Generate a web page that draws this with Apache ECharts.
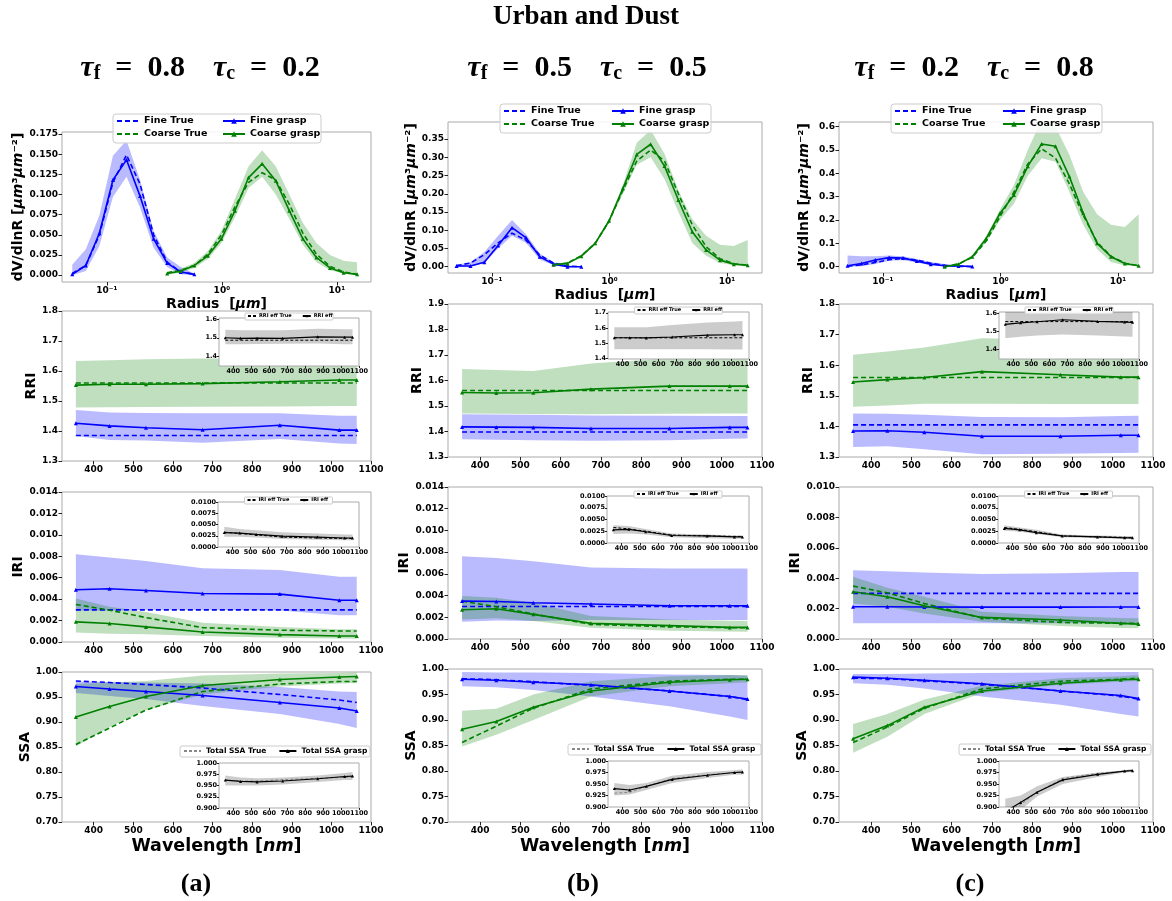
<!DOCTYPE html>
<html>
<head>
<meta charset="utf-8">
<script src="https://cdn.jsdelivr.net/npm/echarts@6.0.0/dist/echarts.min.js"></script>
<style>
html,body{margin:0;padding:0;background:#fff;}
#chart{width:1172px;height:901px;}
</style>
</head>
<body>
<div id="chart"></div>
<script>
// ---------------- categories ----------------
const RADIUS = [0.05, 0.0656, 0.0861, 0.1129, 0.1482, 0.1944, 0.2551, 0.3347, 0.4392, 0.5763, 0.7562,
  0.9922, 1.302, 1.708, 2.241, 2.941, 3.859, 5.063, 6.644, 8.717, 11.44, 15.0];
const WAVELENGTH = [355, 440, 532, 675, 870, 1020, 1064];

// ---------------- tick labels ----------------
const LOG_TICKS = [-1, 0, 1];
const LOG_TICK_LABELS = ['10⁻¹', '10⁰', '10¹'];
const WL_TICKS = [400, 500, 600, 700, 800, 900, 1000, 1100];
const VSD_A_TICKS = [0, 0.025, 0.05, 0.075, 0.1, 0.125, 0.15, 0.175];
const VSD_B_TICKS = [0, 0.05, 0.1, 0.15, 0.2, 0.25, 0.3, 0.35];
const VSD_C_TICKS = [0, 0.1, 0.2, 0.3, 0.4, 0.5, 0.6];
const RRI_AC_TICKS = [1.3, 1.4, 1.5, 1.6, 1.7, 1.8];
const RRI_B_TICKS = [1.3, 1.4, 1.5, 1.6, 1.7, 1.8, 1.9];
const IRI_AB_TICKS = [0, 0.002, 0.004, 0.006, 0.008, 0.010, 0.012, 0.014];
const IRI_C_TICKS = [0, 0.002, 0.004, 0.006, 0.008, 0.010];
const SSA_TICKS = [0.70, 0.75, 0.80, 0.85, 0.90, 0.95, 1.00];
const INS_RRI_AC_TICKS = [1.4, 1.5, 1.6];
const INS_RRI_B_TICKS = [1.4, 1.5, 1.6, 1.7];
const INS_IRI_TICKS = [0, 0.0025, 0.005, 0.0075, 0.01];
const INS_SSA_TICKS = [0.9, 0.925, 0.95, 0.975, 1.0];

// ---------------- (a) size distribution ----------------
const A_VSD_FINE_TRUE   = [0.002, 0.012, 0.050, 0.115, 0.149, 0.113, 0.050, 0.016, 0.004, 0.001];
const A_VSD_FINE_GRASP  = [0.001, 0.012, 0.052, 0.118, 0.143, 0.098, 0.045, 0.015, 0.004, 0.001];
const A_VSD_FINE_LO     = [0.000, 0.005, 0.036, 0.097, 0.122, 0.084, 0.034, 0.010, 0.001, 0.000];
const A_VSD_FINE_HI     = [0.013, 0.032, 0.074, 0.148, 0.167, 0.118, 0.055, 0.022, 0.010, 0.002];
const A_VSD_COARSE_TRUE  = [0.003, 0.006, 0.012, 0.026, 0.050, 0.085, 0.115, 0.127, 0.118, 0.088, 0.052, 0.026, 0.011, 0.004, 0.001];
const A_VSD_COARSE_GRASP = [0.002, 0.005, 0.012, 0.024, 0.045, 0.080, 0.121, 0.138, 0.117, 0.080, 0.045, 0.022, 0.009, 0.003, 0.001];
const A_VSD_COARSE_LO    = [0.001, 0.003, 0.009, 0.020, 0.040, 0.072, 0.108, 0.122, 0.100, 0.070, 0.038, 0.016, 0.006, 0.002, 0.000];
const A_VSD_COARSE_HI    = [0.004, 0.008, 0.015, 0.030, 0.055, 0.095, 0.135, 0.155, 0.135, 0.100, 0.065, 0.040, 0.025, 0.018, 0.016];
// ---------------- (b) size distribution ----------------
const B_VSD_FINE_TRUE   = [0.003, 0.010, 0.033, 0.065, 0.092, 0.073, 0.032, 0.010, 0.002, 0.000];
const B_VSD_FINE_GRASP  = [0.002, 0.002, 0.012, 0.058, 0.107, 0.080, 0.027, 0.007, 0.000, 0.000];
const B_VSD_FINE_LO     = [0.000, 0.000, 0.010, 0.050, 0.085, 0.066, 0.020, 0.004, 0.000, 0.000];
const B_VSD_FINE_HI     = [0.005, 0.012, 0.040, 0.085, 0.128, 0.090, 0.036, 0.012, 0.003, 0.001];
const B_VSD_COARSE_TRUE  = [0.005, 0.010, 0.030, 0.064, 0.125, 0.210, 0.290, 0.320, 0.290, 0.200, 0.115, 0.055, 0.022, 0.008, 0.004];
const B_VSD_COARSE_GRASP = [0.005, 0.009, 0.029, 0.064, 0.126, 0.215, 0.308, 0.336, 0.276, 0.183, 0.096, 0.046, 0.018, 0.007, 0.004];
const B_VSD_COARSE_LO    = [0.003, 0.007, 0.025, 0.060, 0.120, 0.200, 0.280, 0.300, 0.240, 0.150, 0.065, 0.030, 0.010, 0.004, 0.002];
const B_VSD_COARSE_HI    = [0.006, 0.012, 0.032, 0.068, 0.130, 0.225, 0.340, 0.375, 0.310, 0.210, 0.130, 0.085, 0.060, 0.057, 0.073];
// ---------------- (c) size distribution ----------------
const C_VSD_FINE_TRUE   = [0.002, 0.008, 0.018, 0.030, 0.036, 0.028, 0.015, 0.006, 0.002, 0.000];
const C_VSD_FINE_GRASP  = [0.004, 0.014, 0.029, 0.039, 0.037, 0.024, 0.011, 0.004, 0.003, 0.001];
const C_VSD_FINE_LO     = [0.000, 0.002, 0.012, 0.025, 0.028, 0.018, 0.006, 0.001, 0.000, 0.000];
const C_VSD_FINE_HI     = [0.048, 0.045, 0.045, 0.048, 0.045, 0.033, 0.020, 0.012, 0.008, 0.003];
const C_VSD_COARSE_TRUE  = [0.000, 0.012, 0.040, 0.110, 0.215, 0.320, 0.440, 0.505, 0.465, 0.355, 0.220, 0.105, 0.045, 0.015, 0.004];
const C_VSD_COARSE_GRASP = [0.000, 0.010, 0.043, 0.121, 0.229, 0.307, 0.430, 0.526, 0.516, 0.386, 0.229, 0.100, 0.043, 0.014, 0.004];
const C_VSD_COARSE_LO    = [0.000, 0.008, 0.038, 0.105, 0.200, 0.270, 0.390, 0.465, 0.450, 0.320, 0.180, 0.075, 0.020, 0.005, 0.002];
const C_VSD_COARSE_HI    = [0.002, 0.015, 0.050, 0.130, 0.245, 0.350, 0.500, 0.630, 0.600, 0.480, 0.320, 0.225, 0.180, 0.170, 0.225];

// ---------------- RRI ----------------
const A_RRI_FINE_TRUE = [1.385, 1.385, 1.385, 1.385, 1.385, 1.385, 1.385];
const A_RRI_FINE_GRASP = [1.426, 1.417, 1.411, 1.404, 1.419, 1.403, 1.403];
const A_RRI_FINE_LO = [1.383, 1.370, 1.368, 1.361, 1.373, 1.358, 1.357];
const A_RRI_FINE_HI = [1.470, 1.462, 1.460, 1.459, 1.459, 1.451, 1.451];
const A_RRI_COARSE_TRUE = [1.560, 1.560, 1.560, 1.560, 1.560, 1.560, 1.560];
const A_RRI_COARSE_GRASP = [1.553, 1.556, 1.556, 1.558, 1.564, 1.570, 1.570];
const A_RRI_COARSE_LO = [1.478, 1.479, 1.480, 1.481, 1.482, 1.483, 1.483];
const A_RRI_COARSE_HI = [1.633, 1.636, 1.639, 1.642, 1.642, 1.642, 1.642];
const A_RRI_EFF_TRUE = [1.487, 1.487, 1.487, 1.487, 1.487, 1.487, 1.487];
const A_RRI_EFF = [1.500, 1.497, 1.498, 1.497, 1.505, 1.503, 1.503];
const A_RRI_EFF_LO = [1.465, 1.466, 1.467, 1.468, 1.470, 1.466, 1.465];
const A_RRI_EFF_HI = [1.542, 1.540, 1.540, 1.540, 1.548, 1.545, 1.545];

const B_RRI_FINE_TRUE = [1.398, 1.398, 1.398, 1.398, 1.398, 1.398, 1.398];
const B_RRI_FINE_GRASP = [1.418, 1.417, 1.416, 1.412, 1.412, 1.416, 1.416];
const B_RRI_FINE_LO = [1.370, 1.368, 1.366, 1.364, 1.366, 1.372, 1.373];
const B_RRI_FINE_HI = [1.468, 1.467, 1.466, 1.463, 1.462, 1.461, 1.461];
const B_RRI_COARSE_TRUE = [1.561, 1.561, 1.561, 1.561, 1.561, 1.561, 1.561];
const B_RRI_COARSE_GRASP = [1.553, 1.551, 1.552, 1.566, 1.578, 1.578, 1.578];
const B_RRI_COARSE_LO = [1.471, 1.470, 1.469, 1.468, 1.470, 1.471, 1.471];
const B_RRI_COARSE_HI = [1.645, 1.641, 1.637, 1.667, 1.687, 1.694, 1.696];
const B_RRI_EFF_TRUE = [1.535, 1.535, 1.535, 1.535, 1.535, 1.535, 1.535];
const B_RRI_EFF = [1.535, 1.535, 1.534, 1.540, 1.552, 1.555, 1.555];
const B_RRI_EFF_LO = [1.460, 1.460, 1.460, 1.460, 1.459, 1.458, 1.458];
const B_RRI_EFF_HI = [1.605, 1.605, 1.605, 1.620, 1.635, 1.643, 1.645];

const C_RRI_FINE_TRUE = [1.405, 1.405, 1.405, 1.405, 1.405, 1.405, 1.405];
const C_RRI_FINE_GRASP = [1.385, 1.386, 1.381, 1.368, 1.368, 1.371, 1.371];
const C_RRI_FINE_LO = [1.333, 1.335, 1.325, 1.309, 1.311, 1.313, 1.314];
const C_RRI_FINE_HI = [1.442, 1.441, 1.438, 1.431, 1.430, 1.434, 1.435];
const C_RRI_COARSE_TRUE = [1.560, 1.560, 1.560, 1.560, 1.560, 1.560, 1.560];
const C_RRI_COARSE_GRASP = [1.545, 1.553, 1.560, 1.579, 1.569, 1.561, 1.561];
const C_RRI_COARSE_LO = [1.464, 1.468, 1.474, 1.474, 1.473, 1.473, 1.473];
const C_RRI_COARSE_HI = [1.634, 1.645, 1.658, 1.688, 1.683, 1.683, 1.683];
const C_RRI_EFF_TRUE = [1.552, 1.552, 1.552, 1.552, 1.552, 1.552, 1.552];
const C_RRI_EFF = [1.537, 1.545, 1.551, 1.562, 1.553, 1.549, 1.548];
const C_RRI_EFF_LO = [1.460, 1.468, 1.475, 1.480, 1.475, 1.470, 1.468];
const C_RRI_EFF_HI = [1.620, 1.620, 1.620, 1.620, 1.620, 1.620, 1.620];

// ---------------- IRI ----------------
const A_IRI_FINE_TRUE = [0.003, 0.003, 0.003, 0.003, 0.003, 0.003, 0.003];
const A_IRI_FINE_GRASP = [0.00488, 0.00497, 0.00481, 0.00453, 0.00447, 0.00390, 0.00390];
const A_IRI_FINE_LO = [0.00295, 0.00295, 0.00300, 0.00300, 0.00295, 0.00250, 0.00250];
const A_IRI_FINE_HI = [0.00819, 0.00788, 0.00756, 0.00688, 0.00672, 0.00610, 0.00610];
const A_IRI_COARSE_TRUE = [0.00350, 0.00297, 0.00228, 0.00134, 0.00110, 0.00103, 0.00103];
const A_IRI_COARSE_GRASP = [0.00188, 0.00172, 0.00141, 0.00094, 0.00069, 0.00056, 0.00056];
const A_IRI_COARSE_LO = [0.00088, 0.00078, 0.00072, 0.00056, 0.00040, 0.00032, 0.00030];
const A_IRI_COARSE_HI = [0.00406, 0.00328, 0.00280, 0.00180, 0.00140, 0.00120, 0.00120];
const A_IRI_EFF_TRUE = [0.0033, 0.0030, 0.0027, 0.0022, 0.0020, 0.0019, 0.0019];
const A_IRI_EFF = [0.0032, 0.0031, 0.0028, 0.0024, 0.0022, 0.0020, 0.0020];
const A_IRI_EFF_LO = [0.0023, 0.0023, 0.0021, 0.0018, 0.0016, 0.0015, 0.0015];
const A_IRI_EFF_HI = [0.0045, 0.0040, 0.0037, 0.0033, 0.0030, 0.0028, 0.0028];

const B_IRI_FINE_TRUE = [0.003, 0.003, 0.003, 0.003, 0.003, 0.003, 0.003];
const B_IRI_FINE_GRASP = [0.00349, 0.00346, 0.00334, 0.00322, 0.00306, 0.00306, 0.00306];
const B_IRI_FINE_LO = [0.00159, 0.00170, 0.00165, 0.00175, 0.00175, 0.00175, 0.00175];
const B_IRI_FINE_HI = [0.00763, 0.00747, 0.00717, 0.00659, 0.00649, 0.00649, 0.00649];
const B_IRI_COARSE_TRUE = [0.00349, 0.00297, 0.00230, 0.00135, 0.00113, 0.00104, 0.00104];
const B_IRI_COARSE_GRASP = [0.00270, 0.00279, 0.00227, 0.00144, 0.00123, 0.00107, 0.00107];
const B_IRI_COARSE_LO = [0.00180, 0.00190, 0.00165, 0.00104, 0.00077, 0.00068, 0.00067];
const B_IRI_COARSE_HI = [0.00395, 0.00380, 0.00334, 0.00211, 0.00180, 0.00168, 0.00165];
const B_IRI_EFF_TRUE = [0.0033, 0.0030, 0.0025, 0.0017, 0.0015, 0.0014, 0.0014];
const B_IRI_EFF = [0.0028, 0.0029, 0.0024, 0.0016, 0.0015, 0.0013, 0.0013];
const B_IRI_EFF_LO = [0.0019, 0.0020, 0.0018, 0.0012, 0.0010, 0.0009, 0.0009];
const B_IRI_EFF_HI = [0.0038, 0.0036, 0.0030, 0.0020, 0.0018, 0.0016, 0.0016];

const C_IRI_FINE_TRUE = [0.003, 0.003, 0.003, 0.003, 0.003, 0.003, 0.003];
const C_IRI_FINE_GRASP = [0.00212, 0.00212, 0.00211, 0.00210, 0.00210, 0.00211, 0.00211];
const C_IRI_FINE_LO = [0.00103, 0.00103, 0.00103, 0.00103, 0.00103, 0.00103, 0.00103];
const C_IRI_FINE_HI = [0.00453, 0.00445, 0.00438, 0.00427, 0.00432, 0.00440, 0.00440];
const C_IRI_COARSE_TRUE = [0.00348, 0.00304, 0.00234, 0.00138, 0.00109, 0.00103, 0.00103];
const C_IRI_COARSE_GRASP = [0.00311, 0.00278, 0.00219, 0.00142, 0.00125, 0.00103, 0.00098];
const C_IRI_COARSE_LO = [0.00234, 0.00212, 0.00168, 0.00114, 0.00085, 0.00073, 0.00070];
const C_IRI_COARSE_HI = [0.00409, 0.00337, 0.00278, 0.00179, 0.00151, 0.00138, 0.00136];
const C_IRI_EFF_TRUE = [0.0033, 0.0029, 0.0024, 0.0015, 0.0013, 0.0012, 0.0011];
const C_IRI_EFF = [0.0031, 0.0028, 0.0022, 0.0015, 0.0013, 0.0011, 0.0011];
const C_IRI_EFF_LO = [0.0026, 0.0024, 0.0019, 0.0012, 0.0010, 0.0009, 0.0009];
const C_IRI_EFF_HI = [0.0038, 0.0033, 0.0028, 0.0018, 0.0016, 0.0015, 0.0015];

// ---------------- SSA ----------------
const A_SSA_FINE_TRUE = [0.982, 0.979, 0.975, 0.968, 0.955, 0.944, 0.939];
const A_SSA_FINE_GRASP = [0.971, 0.966, 0.961, 0.953, 0.939, 0.928, 0.922];
const A_SSA_FINE_LO = [0.958, 0.952, 0.946, 0.932, 0.916, 0.896, 0.888];
const A_SSA_FINE_HI = [0.981, 0.980, 0.979, 0.977, 0.970, 0.961, 0.960];
const A_SSA_COARSE_TRUE = [0.855, 0.888, 0.924, 0.961, 0.976, 0.981, 0.981];
const A_SSA_COARSE_GRASP = [0.910, 0.931, 0.951, 0.973, 0.985, 0.990, 0.991];
const A_SSA_COARSE_LO = [0.851, 0.890, 0.924, 0.955, 0.971, 0.977, 0.978];
const A_SSA_COARSE_HI = [0.976, 0.979, 0.982, 0.993, 0.997, 0.998, 0.999];
const A_SSA_TOT_TRUE = [0.962, 0.960, 0.960, 0.963, 0.966, 0.968, 0.969];
const A_SSA_TOT = [0.962, 0.959, 0.958, 0.960, 0.965, 0.970, 0.971];
const A_SSA_TOT_LO = [0.950, 0.950, 0.950, 0.952, 0.958, 0.962, 0.962];
const A_SSA_TOT_HI = [0.972, 0.968, 0.966, 0.968, 0.972, 0.978, 0.980];

const B_SSA_FINE_TRUE = [0.981, 0.979, 0.975, 0.968, 0.957, 0.946, 0.940];
const B_SSA_FINE_GRASP = [0.980, 0.978, 0.974, 0.969, 0.957, 0.946, 0.941];
const B_SSA_FINE_LO = [0.966, 0.964, 0.959, 0.946, 0.927, 0.907, 0.900];
const B_SSA_FINE_HI = [0.994, 0.993, 0.993, 0.992, 0.989, 0.988, 0.987];
const B_SSA_COARSE_TRUE = [0.856, 0.888, 0.923, 0.961, 0.976, 0.980, 0.980];
const B_SSA_COARSE_GRASP = [0.882, 0.897, 0.925, 0.957, 0.974, 0.979, 0.980];
const B_SSA_COARSE_LO = [0.848, 0.871, 0.900, 0.946, 0.966, 0.972, 0.974];
const B_SSA_COARSE_HI = [0.918, 0.922, 0.950, 0.976, 0.986, 0.988, 0.988];
const B_SSA_TOT_TRUE = [0.930, 0.932, 0.945, 0.962, 0.970, 0.975, 0.976];
const B_SSA_TOT = [0.940, 0.937, 0.945, 0.960, 0.969, 0.975, 0.976];
const B_SSA_TOT_LO = [0.925, 0.927, 0.937, 0.952, 0.963, 0.970, 0.970];
const B_SSA_TOT_HI = [0.952, 0.948, 0.952, 0.968, 0.976, 0.980, 0.982];

const C_SSA_FINE_TRUE = [0.982, 0.981, 0.977, 0.970, 0.957, 0.947, 0.941];
const C_SSA_FINE_GRASP = [0.984, 0.982, 0.978, 0.971, 0.957, 0.948, 0.942];
const C_SSA_FINE_LO = [0.972, 0.969, 0.962, 0.946, 0.930, 0.912, 0.907];
const C_SSA_FINE_HI = [0.990, 0.990, 0.991, 0.992, 0.993, 0.994, 0.994];
const C_SSA_COARSE_TRUE = [0.856, 0.886, 0.923, 0.961, 0.976, 0.980, 0.982];
const C_SSA_COARSE_GRASP = [0.863, 0.889, 0.925, 0.957, 0.972, 0.979, 0.980];
const C_SSA_COARSE_LO = [0.836, 0.867, 0.912, 0.953, 0.969, 0.975, 0.977];
const C_SSA_COARSE_HI = [0.892, 0.912, 0.940, 0.967, 0.982, 0.986, 0.988];
const C_SSA_TOT_TRUE = [0.890, 0.905, 0.932, 0.962, 0.973, 0.978, 0.980];
const C_SSA_TOT = [0.890, 0.910, 0.932, 0.959, 0.971, 0.978, 0.979];
const C_SSA_TOT_LO = [0.870, 0.893, 0.923, 0.950, 0.965, 0.975, 0.976];
const C_SSA_TOT_HI = [0.918, 0.925, 0.945, 0.965, 0.975, 0.980, 0.983];

// ---------------- styling / layout ----------------
const FONT = 'DejaVu Sans';
const SERIF = 'Liberation Serif';
const BLUE = '#0000ff', GREEN = '#008000';
const BLUE_FILL = 'rgba(0,0,255,0.27)', GREEN_FILL = 'rgba(0,128,0,0.25)', GRAY_FILL = 'rgba(0,0,0,0.2)';
const FRAME = '#aaaaaa';
const LOG_R = RADIUS.map(r => Math.log10(r));
const FINE_R = LOG_R.slice(0, 10);
const COARSE_R = LOG_R.slice(7);

const grids = [], xAxes = [], yAxes = [], series = [], legends = [], graphics = [];

function fmt(d) { return v => Number(v).toFixed(d); }
function logFmt(v) { const i = LOG_TICKS.indexOf(Math.round(v)); return i >= 0 ? LOG_TICK_LABELS[i] : ''; }

function addGrid(r, show) {
  grids.push({left: r[0], top: r[1], width: r[2] - r[0], height: r[3] - r[1], show: show,
    borderColor: FRAME, borderWidth: 1, backgroundColor: 'transparent', containLabel: false, outerBoundsMode: 'none'});
  return grids.length - 1;
}
function nameStyle(fs) {
  return {fontFamily: FONT, fontWeight: 'bold', fontSize: fs, color: '#000',
    rich: {i: {fontFamily: FONT, fontWeight: 'bold', fontStyle: 'italic', fontSize: fs, color: '#000'}}};
}
function addAxis(list, gi, min, max, ticks, formatter, fs, z, extra) {
  const small = fs < 8;
  list.push(Object.assign({
    type: 'value', gridIndex: gi, min: min, max: max, z: z,
    axisLine: {show: false, onZero: false}, splitLine: {show: false},
    axisTick: {show: true, customValues: ticks, length: small ? 2 : 3.5, lineStyle: {color: '#222', width: 1}},
    axisLabel: {show: true, customValues: ticks, formatter: formatter, fontFamily: FONT, fontWeight: 'bold',
      fontSize: fs, color: '#000', margin: small ? 2 : 4}
  }, extra || {}));
  return list.length - 1;
}
function addLine(name, xi, yi, xs, ys, color, dash, marker, z, lw, ms) {
  series.push({type: 'line', name: name, xAxisIndex: xi, yAxisIndex: yi, z: z, silent: true, animation: false,
    data: xs.map((x, i) => [x, ys[i]]),
    symbol: marker ? 'triangle' : 'none', showSymbol: !!marker, symbolSize: ms || 4,
    itemStyle: {color: color}, lineStyle: {color: color, width: lw, type: dash || 'solid'},
    emphasis: {disabled: true}});
}
function addBand(xi, yi, xs, lo, hi, fill, z) {
  const data = xs.map((x, i) => [x, lo[i], hi[i]]);
  const n = data.length;
  series.push({type: 'custom', xAxisIndex: xi, yAxisIndex: yi, z: z, silent: true, clip: true, animation: false,
    data: data, encode: {x: 0, y: [1, 2]},
    renderItem: function (params, api) {
      if (params.dataIndexInside !== 0) return null;
      const pts = [];
      for (let i = 0; i < n; i++) pts.push(api.coord([api.value(0, i), api.value(2, i)]));
      for (let i = n - 1; i >= 0; i--) pts.push(api.coord([api.value(0, i), api.value(1, i)]));
      return {type: 'polygon', shape: {points: pts}, style: {fill: fill, stroke: null}};
    }});
}
function rect(r, fill, stroke, z, radius) {
  graphics.push({type: 'rect', z: z, silent: true,
    shape: {x: r[0], y: r[1], width: r[2] - r[0], height: r[3] - r[1], r: radius || 0},
    style: {fill: fill, stroke: stroke, lineWidth: 1}});
}
function text(x, y, str, font, rich) {
  graphics.push({type: 'text', x: x, y: y, z: 10, silent: true,
    style: Object.assign({text: str, fill: '#000', align: 'center', verticalAlign: 'middle', rich: rich || {}}, font)});
}
// legend entry: lines without markers get no symbol in the legend icon
function legItem(name, hasMarker) {
  return hasMarker ? {name: name} : {name: name, itemStyle: {opacity: 0}};
}

// ----- panel definitions (layout + references to arrays) -----
const PANELS = [
  {tag: '(a)', head: '0.8', head2: '0.2', cx: 200,
   x0: 62, x1: 371, vsdY: [132, 282], rriY: [311, 461], iriY: [492, 642], ssaY: [672, 822],
   vsdX: [-1.39, 1.297], vsdR: [-0.0085, 0.1775], vsdT: VSD_A_TICKS, vsdD: 3, vsdGap: 31,
   rriR: [1.3, 1.8], rriT: RRI_AC_TICKS, rriGap: 17, iriR: [0, 0.014], iriT: IRI_AB_TICKS, iriGap: 30, ssaGap: 25,
   insRri: [219, 318, 359, 366], insRriR: [1.35, 1.605], insRriT: INS_RRI_AC_TICKS,
   insIri: [218, 502, 359, 547], insSsa: [219, 763, 359, 808],
   legBox: [113, 114, 321, 143], legL: 116, legR: 222, legTop: 116,
   ssaLeg: [180, 746, 370, 757],
   vsd: [A_VSD_FINE_TRUE, A_VSD_FINE_GRASP, A_VSD_FINE_LO, A_VSD_FINE_HI, A_VSD_COARSE_TRUE, A_VSD_COARSE_GRASP, A_VSD_COARSE_LO, A_VSD_COARSE_HI],
   rri: [A_RRI_FINE_TRUE, A_RRI_FINE_GRASP, A_RRI_FINE_LO, A_RRI_FINE_HI, A_RRI_COARSE_TRUE, A_RRI_COARSE_GRASP, A_RRI_COARSE_LO, A_RRI_COARSE_HI],
   rriIns: [A_RRI_EFF_TRUE, A_RRI_EFF, A_RRI_EFF_LO, A_RRI_EFF_HI],
   iri: [A_IRI_FINE_TRUE, A_IRI_FINE_GRASP, A_IRI_FINE_LO, A_IRI_FINE_HI, A_IRI_COARSE_TRUE, A_IRI_COARSE_GRASP, A_IRI_COARSE_LO, A_IRI_COARSE_HI],
   iriIns: [A_IRI_EFF_TRUE, A_IRI_EFF, A_IRI_EFF_LO, A_IRI_EFF_HI],
   ssa: [A_SSA_FINE_TRUE, A_SSA_FINE_GRASP, A_SSA_FINE_LO, A_SSA_FINE_HI, A_SSA_COARSE_TRUE, A_SSA_COARSE_GRASP, A_SSA_COARSE_LO, A_SSA_COARSE_HI],
   ssaIns: [A_SSA_TOT_TRUE, A_SSA_TOT, A_SSA_TOT_LO, A_SSA_TOT_HI]},
  {tag: '(b)', head: '0.5', head2: '0.5', cx: 587,
   x0: 448, x1: 762, vsdY: [122, 273], rriY: [304, 457], iriY: [487, 639], ssaY: [669, 822],
   vsdX: [-1.374, 1.298], vsdR: [-0.0173, 0.397], vsdT: VSD_B_TICKS, vsdD: 2, vsdGap: 27,
   rriR: [1.3, 1.9], rriT: RRI_B_TICKS, rriGap: 16, iriR: [0, 0.014], iriT: IRI_AB_TICKS, iriGap: 30, ssaGap: 25,
   insRri: [608, 312, 749, 359], insRriR: [1.395, 1.705], insRriT: INS_RRI_B_TICKS,
   insIri: [607, 496, 749, 543], insSsa: [608, 761, 749, 807],
   legBox: [500, 104, 711, 133], legL: 503, legR: 611, legTop: 106,
   ssaLeg: [568, 744, 761, 755],
   vsd: [B_VSD_FINE_TRUE, B_VSD_FINE_GRASP, B_VSD_FINE_LO, B_VSD_FINE_HI, B_VSD_COARSE_TRUE, B_VSD_COARSE_GRASP, B_VSD_COARSE_LO, B_VSD_COARSE_HI],
   rri: [B_RRI_FINE_TRUE, B_RRI_FINE_GRASP, B_RRI_FINE_LO, B_RRI_FINE_HI, B_RRI_COARSE_TRUE, B_RRI_COARSE_GRASP, B_RRI_COARSE_LO, B_RRI_COARSE_HI],
   rriIns: [B_RRI_EFF_TRUE, B_RRI_EFF, B_RRI_EFF_LO, B_RRI_EFF_HI],
   iri: [B_IRI_FINE_TRUE, B_IRI_FINE_GRASP, B_IRI_FINE_LO, B_IRI_FINE_HI, B_IRI_COARSE_TRUE, B_IRI_COARSE_GRASP, B_IRI_COARSE_LO, B_IRI_COARSE_HI],
   iriIns: [B_IRI_EFF_TRUE, B_IRI_EFF, B_IRI_EFF_LO, B_IRI_EFF_HI],
   ssa: [B_SSA_FINE_TRUE, B_SSA_FINE_GRASP, B_SSA_FINE_LO, B_SSA_FINE_HI, B_SSA_COARSE_TRUE, B_SSA_COARSE_GRASP, B_SSA_COARSE_LO, B_SSA_COARSE_HI],
   ssaIns: [B_SSA_TOT_TRUE, B_SSA_TOT, B_SSA_TOT_LO, B_SSA_TOT_HI]},
  {tag: '(c)', head: '0.2', head2: '0.8', cx: 974,
   x0: 839, x1: 1153, vsdY: [122, 273], rriY: [304, 457], iriY: [487, 639], ssaY: [669, 822],
   vsdX: [-1.374, 1.298], vsdR: [-0.027, 0.62], vsdT: VSD_C_TICKS, vsdD: 1, vsdGap: 28,
   rriR: [1.3, 1.8], rriT: RRI_AC_TICKS, rriGap: 17, iriR: [0, 0.010], iriT: IRI_C_TICKS, iriGap: 31, ssaGap: 26,
   insRri: [999, 312, 1139, 359], insRriR: [1.345, 1.605], insRriT: INS_RRI_AC_TICKS,
   insIri: [998, 496, 1139, 543], insSsa: [999, 761, 1139, 807],
   legBox: [891, 104, 1102, 133], legL: 894, legR: 1002, legTop: 106,
   ssaLeg: [959, 744, 1151, 755],
   vsd: [C_VSD_FINE_TRUE, C_VSD_FINE_GRASP, C_VSD_FINE_LO, C_VSD_FINE_HI, C_VSD_COARSE_TRUE, C_VSD_COARSE_GRASP, C_VSD_COARSE_LO, C_VSD_COARSE_HI],
   rri: [C_RRI_FINE_TRUE, C_RRI_FINE_GRASP, C_RRI_FINE_LO, C_RRI_FINE_HI, C_RRI_COARSE_TRUE, C_RRI_COARSE_GRASP, C_RRI_COARSE_LO, C_RRI_COARSE_HI],
   rriIns: [C_RRI_EFF_TRUE, C_RRI_EFF, C_RRI_EFF_LO, C_RRI_EFF_HI],
   iri: [C_IRI_FINE_TRUE, C_IRI_FINE_GRASP, C_IRI_FINE_LO, C_IRI_FINE_HI, C_IRI_COARSE_TRUE, C_IRI_COARSE_GRASP, C_IRI_COARSE_LO, C_IRI_COARSE_HI],
   iriIns: [C_IRI_EFF_TRUE, C_IRI_EFF, C_IRI_EFF_LO, C_IRI_EFF_HI],
   ssa: [C_SSA_FINE_TRUE, C_SSA_FINE_GRASP, C_SSA_FINE_LO, C_SSA_FINE_HI, C_SSA_COARSE_TRUE, C_SSA_COARSE_GRASP, C_SSA_COARSE_LO, C_SSA_COARSE_HI],
   ssaIns: [C_SSA_TOT_TRUE, C_SSA_TOT, C_SSA_TOT_LO, C_SSA_TOT_HI]}
];

const DASH = [5, 3];
const LW = 1.6;

function fourLines(prefix, xi, yi, xf, xc, d) {
  addBand(xi, yi, xf, d[2], d[3], BLUE_FILL, 2);
  addBand(xi, yi, xc, d[6], d[7], GREEN_FILL, 2);
  addLine(prefix + 'Fine True', xi, yi, xf, d[0], BLUE, DASH, false, 2, LW);
  addLine(prefix + 'Coarse True', xi, yi, xc, d[4], GREEN, DASH, false, 2, LW);
  addLine(prefix + 'Fine grasp', xi, yi, xf, d[1], BLUE, null, true, 2, LW);
  addLine(prefix + 'Coarse grasp', xi, yi, xc, d[5], GREEN, null, true, 2, LW);
}

function addInset(r, yr, yt, yd, d, names, trueColor) {
  rect(r, '#ffffff', FRAME, 3);
  const gi = addGrid(r, false);
  const xi = addAxis(xAxes, gi, 320, 1100, WL_TICKS, v => String(v), 6.5, 5);
  const yi = addAxis(yAxes, gi, yr[0], yr[1], yt, fmt(yd), 6.5, 5);
  addBand(xi, yi, WAVELENGTH, d[2], d[3], GRAY_FILL, 4);
  addLine(names[0], xi, yi, WAVELENGTH, d[0], trueColor, [3, 2], false, 4, 1);
  addLine(names[1], xi, yi, WAVELENGTH, d[1], '#000', null, true, 4, 1.2, 3);
}
function insetLegend(r, names) {
  const cx = (r[0] + r[2]) / 2;
  rect([cx - 44, r[1] - 5, cx + 44, r[1] + 2], 'rgba(255,255,255,0.9)', '#cccccc', 6, 1);
  legends.push({orient: 'horizontal', left: cx - 42, top: r[1] - 4.5, itemWidth: 8, itemHeight: 3, itemGap: 10,
    padding: 0, selectedMode: false, z: 7, data: [legItem(names[0], false), legItem(names[1], true)],
    textStyle: {fontFamily: FONT, fontWeight: 'bold', fontSize: 5, color: '#000', padding: [0, 0, 0, -2]}});
}

PANELS.forEach(p => {
  // ---- size distribution ----
  let gi = addGrid([p.x0, p.vsdY[0], p.x1, p.vsdY[1]], true);
  let xi = addAxis(xAxes, gi, p.vsdX[0], p.vsdX[1], LOG_TICKS, logFmt, 9, 0,
    {name: 'Radius  [{i|μm}]', nameLocation: 'middle', nameGap: 15, nameTextStyle: nameStyle(14)});
  let yi = addAxis(yAxes, gi, p.vsdR[0], p.vsdR[1], p.vsdT, fmt(p.vsdD), 9, 0,
    {name: 'dV/dlnR [{i|μm}³{i|μm}⁻²]', nameLocation: 'middle', nameRotate: 90, nameGap: p.vsdGap, nameTextStyle: nameStyle(14)});
  fourLines('', xi, yi, FINE_R, COARSE_R, p.vsd);
  rect(p.legBox, 'rgba(255,255,255,0.85)', '#cccccc', 6, 3);
  const legText = {fontFamily: FONT, fontWeight: 'bold', fontSize: 9.5, color: '#000'};
  legends.push({orient: 'vertical', left: p.legL, top: p.legTop, itemWidth: 22, itemHeight: 7, itemGap: 3,
    padding: 0, selectedMode: false, z: 7, data: [legItem('Fine True', false), legItem('Coarse True', false)], textStyle: legText});
  legends.push({orient: 'vertical', left: p.legR, top: p.legTop, itemWidth: 22, itemHeight: 7, itemGap: 3,
    padding: 0, selectedMode: false, z: 7, data: [legItem('Fine grasp', true), legItem('Coarse grasp', true)], textStyle: legText});

  // ---- RRI ----
  gi = addGrid([p.x0, p.rriY[0], p.x1, p.rriY[1]], true);
  xi = addAxis(xAxes, gi, 320, 1100, WL_TICKS, v => String(v), 9, 0);
  yi = addAxis(yAxes, gi, p.rriR[0], p.rriR[1], p.rriT, fmt(1), 9, 0,
    {name: 'RRI', nameLocation: 'middle', nameRotate: 90, nameGap: p.rriGap, nameTextStyle: nameStyle(14)});
  fourLines('RRI ' + p.tag + ' ', xi, yi, WAVELENGTH, WAVELENGTH, p.rri);
  addInset(p.insRri, p.insRriR, p.insRriT, 1, p.rriIns, ['RRI eff True', 'RRI eff'], '#000');
  insetLegend(p.insRri, ['RRI eff True', 'RRI eff']);

  // ---- IRI ----
  gi = addGrid([p.x0, p.iriY[0], p.x1, p.iriY[1]], true);
  xi = addAxis(xAxes, gi, 320, 1100, WL_TICKS, v => String(v), 9, 0);
  yi = addAxis(yAxes, gi, p.iriR[0], p.iriR[1], p.iriT, fmt(3), 9, 0,
    {name: 'IRI', nameLocation: 'middle', nameRotate: 90, nameGap: p.iriGap, nameTextStyle: nameStyle(14)});
  fourLines('IRI ' + p.tag + ' ', xi, yi, WAVELENGTH, WAVELENGTH, p.iri);
  addInset(p.insIri, [0, 0.01], INS_IRI_TICKS, 4, p.iriIns, ['IRI eff True', 'IRI eff'], '#000');
  insetLegend(p.insIri, ['IRI eff True', 'IRI eff']);

  // ---- SSA ----
  gi = addGrid([p.x0, p.ssaY[0], p.x1, p.ssaY[1]], true);
  xi = addAxis(xAxes, gi, 320, 1100, WL_TICKS, v => String(v), 9, 0,
    {name: 'Wavelength [{i|nm}]', nameLocation: 'middle', nameGap: 15, nameTextStyle: nameStyle(17.5)});
  yi = addAxis(yAxes, gi, 0.7, 1.0, SSA_TICKS, fmt(2), 9, 0,
    {name: 'SSA', nameLocation: 'middle', nameRotate: 90, nameGap: p.ssaGap, nameTextStyle: nameStyle(14)});
  fourLines('SSA ' + p.tag + ' ', xi, yi, WAVELENGTH, WAVELENGTH, p.ssa);
  addInset(p.insSsa, [0.9, 1.0], INS_SSA_TICKS, 3, p.ssaIns, ['Total SSA True', 'Total SSA grasp'], '#888888');
  rect(p.ssaLeg, 'rgba(255,255,255,0.85)', '#cccccc', 6, 2);
  legends.push({orient: 'horizontal', left: p.ssaLeg[0] + 3, top: p.ssaLeg[1] + 1, itemWidth: 17, itemHeight: 5, itemGap: 12,
    padding: 0, selectedMode: false, z: 7, data: [legItem('Total SSA True', false), legItem('Total SSA grasp', true)],
    textStyle: {fontFamily: FONT, fontWeight: 'bold', fontSize: 7.5, color: '#000'}});

  // ---- headings ----
  text(p.cx, 68, '{t|τ}{s|' + 'f' + '}{n|  =  ' + p.head + '}{g| }{t|τ}{s|c}{n|  =  ' + p.head2 + '}',
    {fontFamily: SERIF, fontWeight: 'bold', fontSize: 30},
    {t: {fontFamily: SERIF, fontWeight: 'bold', fontStyle: 'italic', fontSize: 30},
     s: {fontFamily: SERIF, fontWeight: 'bold', fontSize: 20, padding: [12, 0, 0, 0]},
     n: {fontFamily: SERIF, fontWeight: 'bold', fontSize: 30},
     g: {fontSize: 30, width: 28}});
  text(p.cx - 4, 884, p.tag, {fontFamily: SERIF, fontWeight: 'bold', fontSize: 26});
});
text(586, 17, 'Urban and Dust', {fontFamily: SERIF, fontWeight: 'bold', fontSize: 27});

const chart = echarts.init(document.getElementById('chart'), null, {renderer: 'canvas', width: 1172, height: 901});
chart.setOption({
  animation: false,
  backgroundColor: '#ffffff',
  textStyle: {fontFamily: FONT},
  grid: grids, xAxis: xAxes, yAxis: yAxes, series: series, legend: legends,
  graphic: {elements: graphics}
});
</script>
</body>
</html>
